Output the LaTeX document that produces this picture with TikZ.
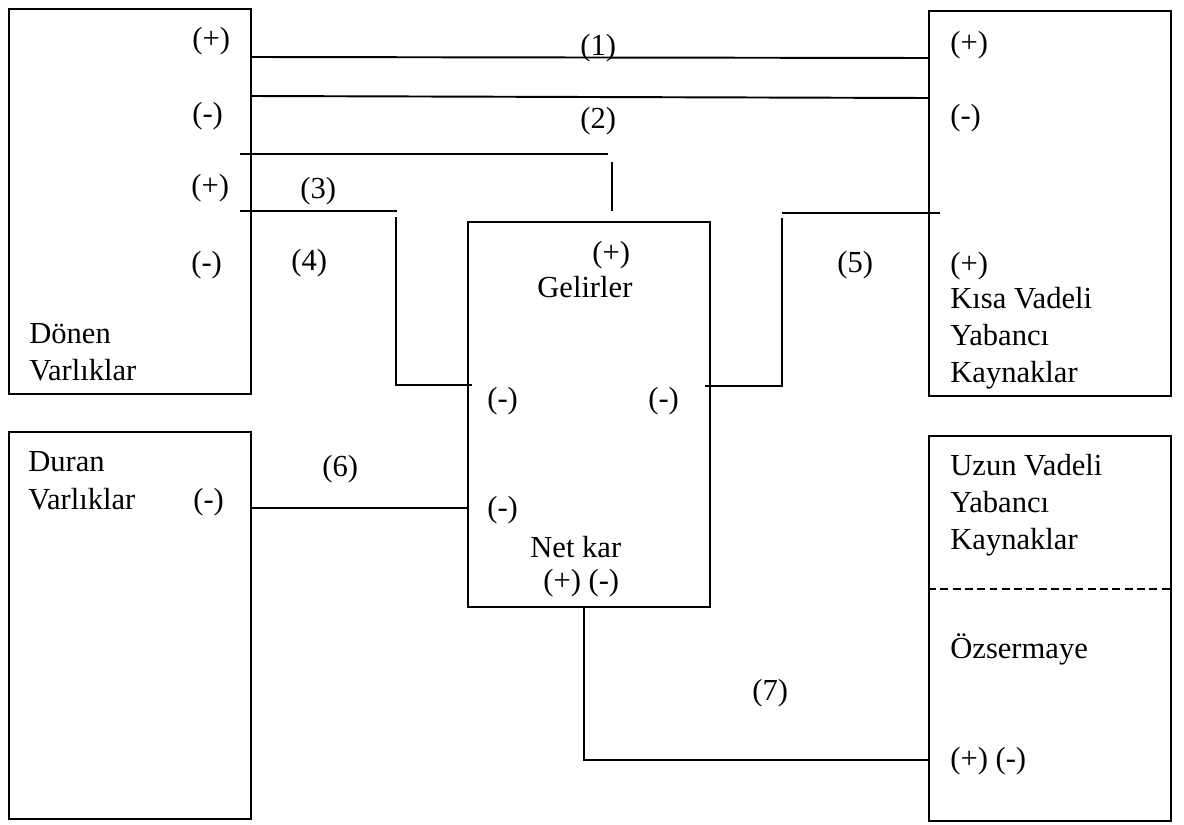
\documentclass[tikz,border=0pt]{standalone}
\usepackage{fontspec}
\setmainfont{Liberation Serif}
\usepackage{tikz}
\usetikzlibrary{calc}

\begin{document}
\begin{tikzpicture}[
  x=0.02cm, y=-0.02cm,
  kutu/.style  = {draw, line width=1.1pt, minimum width=4.84cm, minimum height=7.7cm,
                  anchor=north west, inner sep=0pt},
  yazi/.style  = {anchor=base west, inner sep=0pt, font=\fontsize{17.4}{21}\selectfont},
  hat/.style   = {line width=1.1pt},
  kesik/.style = {line width=1.1pt, dash pattern=on 4.5pt off 2.5pt},
]
\useasboundingbox (0,0) rectangle (1184,825);
\node[kutu] (donen) at (8,8) {};
\node[kutu, minimum height=7.74cm] (duran) at (8,431) {};
\node[kutu] (gelir) at (467,221) {};
\node[kutu] (kvyk) at (928,10) {};
\node[kutu] (uvyk) at (928,435) {};

\node[yazi] (dp1) at (192,48)  {(+)};
\node[yazi] (dm1) at (192,123) {(-)};
\node[yazi] (dp2) at (191,195) {(+)};
\node[yazi] (dm2) at (191,272) {(-)};
\node[yazi] (dad1) at (29,343) {Dönen};
\node[yazi] (dad2) at (29,380) {Varlıklar};

\node[yazi] (kp1) at (950,52)  {(+)};
\node[yazi] (km1) at (950,125) {(-)};
\node[yazi] (kp2) at (950,273) {(+)};
\node[yazi] (kad1) at (950,308) {Kısa Vadeli};
\node[yazi] (kad2) at (950,345) {Yabancı};
\node[yazi] (kad3) at (950,382) {Kaynaklar};

\node[yazi] (gp) at (592,262)  {(+)};
\node[yazi] (gad) at (537,297) {Gelirler};
\node[yazi] (gm1) at (487,408) {(-)};
\node[yazi] (gm2) at (648,408) {(-)};
\node[yazi] (gm3) at (487,517) {(-)};
\node[yazi] (nad) at (530,557) {Net kar};
\node[yazi] (npm) at (543,590) {(+) (-)};

\node[yazi] (rad1) at (28,471) {Duran};
\node[yazi] (rad2) at (28,509) {Varlıklar};
\node[yazi] (rm) at (193,509)  {(-)};

\node[yazi] (uad1) at (950,475) {Uzun Vadeli};
\node[yazi] (uad2) at (950,512) {Yabancı};
\node[yazi] (uad3) at (950,549) {Kaynaklar};
\node[yazi] (oad) at (950,658)  {Özsermaye};
\node[yazi] (opm) at (950,768)  {(+) (-)};

\node[yazi] (n1) at (580,55)  {(1)};
\node[yazi] (n2) at (580,128) {(2)};
\node[yazi] (n3) at (300,198) {(3)};
\node[yazi] (n4) at (291,270) {(4)};
\node[yazi] (n5) at (837,272) {(5)};
\node[yazi] (n6) at (322,476) {(6)};
\node[yazi] (n7) at (752,700) {(7)};

\coordinate (h3a) at (240,154);
\coordinate (h3b) at (608,154);
\coordinate (h3c) at (612,162);
\coordinate (h3d) at (612,211);
\coordinate (h4a) at (240,211);
\coordinate (h4b) at (397,211);
\coordinate (h4c) at (396,217);
\coordinate (h4d) at (396,385);
\coordinate (h5a) at (940,213);
\coordinate (h5b) at (782,213);
\coordinate (h5c) at (782,218);
\coordinate (h5d) at (782,386);
\coordinate (h7) at (584,760);

\draw[hat] (donen.east |- 0,57) -- (kvyk.west |- 0,58);
\draw[hat] (donen.east |- 0,96) -- (kvyk.west |- 0,98);
\draw[hat] (h3a) -- (h3b);
\draw[hat] (h3c) -- (h3d);
\draw[hat] (h4a) -- (h4b);
\draw[hat] (h4c) -- (h4d) -- ($(gelir.west |- h4d)+(5,0)$);
\draw[hat] (h5a) -- (h5b);
\draw[hat] (h5c) -- (h5d) -- ($(gelir.east |- h5d)+(-6,0)$);
\draw[hat] (duran.east |- 0,508) -- (gelir.west |- 0,508);
\draw[hat] (gelir.south -| h7) -- (h7) -- (uvyk.west |- h7);
\draw[kesik] (uvyk.west |- 0,589) -- (uvyk.east |- 0,589);
\end{tikzpicture}
\end{document}
